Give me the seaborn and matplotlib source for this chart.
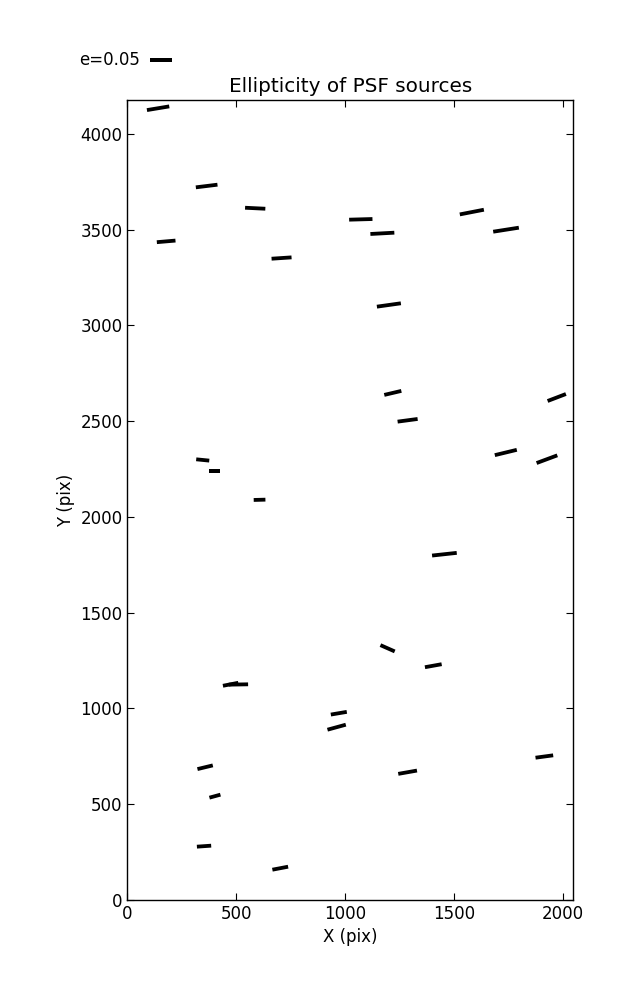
import numpy as np
import pandas as pd
import matplotlib
matplotlib.use("Agg")
import matplotlib.pyplot as plt
import seaborn as sns

# source positions (pix), ellipticity and position angle (deg)
x_pix = [141, 364, 587, 1072, 1171, 1582, 1739, 178, 708, 1201,
         1219, 1972, 1287, 346, 399, 1738, 1927, 607, 1456, 1195,
         1405, 474, 510, 971, 961, 1915, 357, 1287, 402, 352, 702]
y_pix = [4133, 3727, 3611, 3553, 3480, 3591, 3499, 3438, 3351, 3106,
         2647, 2623, 2504, 2297, 2239, 2336, 2301, 2089, 1805, 1314,
         1223, 1126, 1125, 975, 902, 749, 693, 667, 542, 281, 166]
ellip = [0.0514, 0.0495, 0.0461, 0.0530, 0.0545, 0.0557, 0.0590, 0.0425, 0.0455, 0.0550,
         0.0398, 0.0445, 0.0459, 0.0298, 0.0250, 0.0514, 0.0502, 0.0266, 0.0564, 0.0355,
         0.0386, 0.0355, 0.0439, 0.0368, 0.0432, 0.0405, 0.0359, 0.0432, 0.0259, 0.0325, 0.0364]
theta = [9.4, 7.0, -2.8, 1.6, 3.1, 11.0, 8.9, 4.9, 3.8, 8.0,
         13.2, 20.9, 7.6, -5.7, 0.0, 13.6, 20.4, 1.5, 6.2, -23.8,
         10.2, 11.0, 1.0, 9.6, 15.3, 7.7, 13.6, 10.0, 15.3, 4.0, 10.8]

df = pd.DataFrame({"x": x_pix, "y": y_pix, "e": ellip, "theta": theta})
df["u"] = df["e"] * np.cos(np.radians(df["theta"]))
df["v"] = df["e"] * np.sin(np.radians(df["theta"]))

sns.set_style("ticks")
plt.rcParams["font.family"] = ["DejaVu Sans"]
plt.rcParams["font.size"] = 12
plt.rcParams["text.color"] = "black"
plt.rcParams["axes.labelcolor"] = "black"
plt.rcParams["xtick.direction"] = "in"
plt.rcParams["ytick.direction"] = "in"
plt.rcParams["xtick.top"] = True
plt.rcParams["ytick.right"] = True
plt.rcParams["xtick.major.size"] = 5
plt.rcParams["ytick.major.size"] = 5
plt.rcParams["xtick.color"] = "black"
plt.rcParams["ytick.color"] = "black"
plt.rcParams["axes.edgecolor"] = "black"
plt.rcParams["axes.linewidth"] = 1.0

fig = plt.figure(figsize=(6.37, 10), dpi=100)
ax = fig.add_axes([0.2, 0.1, 0.7, 0.8])

Q = ax.quiver(df["x"], df["y"], df["u"], df["v"], angles="uv",
              scale_units="inches", scale=0.05 / 0.22, pivot="middle",
              headwidth=0, headlength=0, headaxislength=0,
              units="inches", width=0.038, color="black")
ax.quiverkey(Q, 0.2355, 0.94, 0.05, "e=0.05", labelpos="W",
             coordinates="figure", fontproperties={"size": 12},
             labelcolor="black")

ax.set_xlim(0, 2048)
ax.set_ylim(0, 4176)
ax.set_xticks([0, 500, 1000, 1500, 2000])
ax.set_yticks([0, 500, 1000, 1500, 2000, 2500, 3000, 3500, 4000])
ax.tick_params(labelsize=12, colors="black")
ax.set_title("Ellipticity of PSF sources", fontsize=14.4, color="black")
ax.set_xlabel("X (pix)", fontsize=12, color="black")
ax.set_ylabel("Y (pix)", fontsize=12, color="black")

fig.savefig("out.png", dpi=100)
